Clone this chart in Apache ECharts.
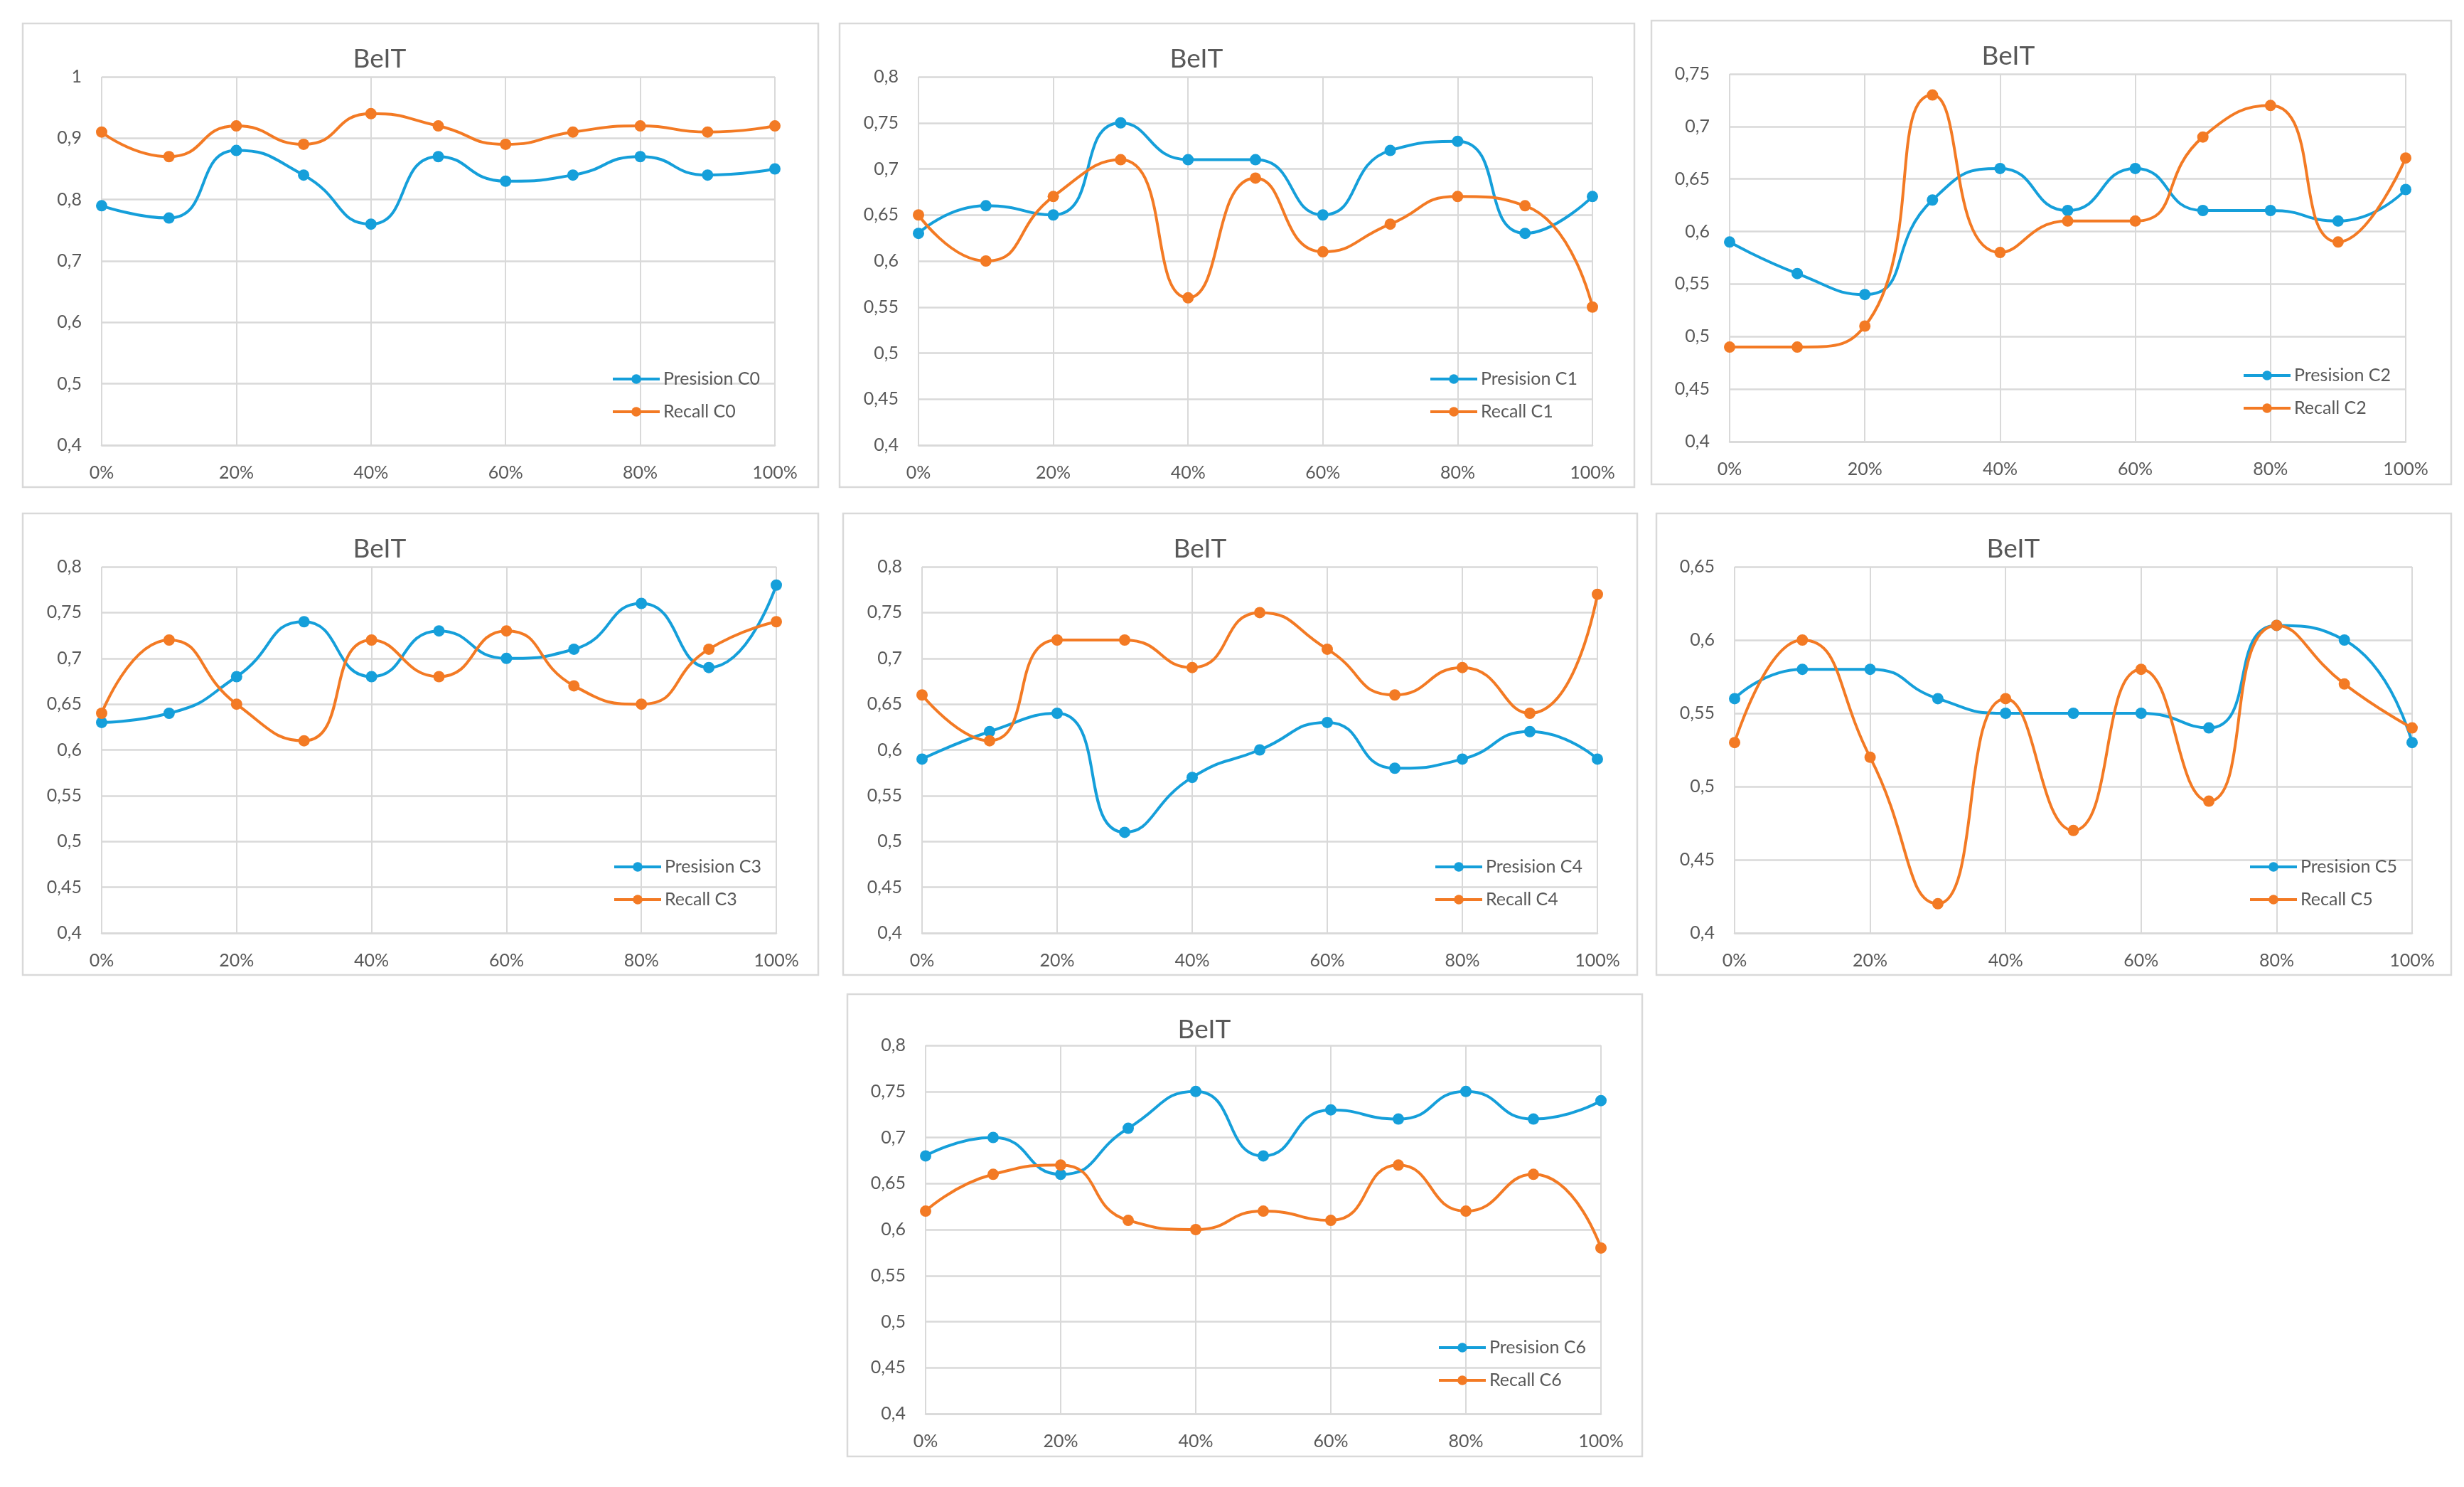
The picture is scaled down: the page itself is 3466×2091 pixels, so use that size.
<!DOCTYPE html>
<html>
<head>
<meta charset="utf-8">
<script src="https://cdn.jsdelivr.net/npm/echarts@6/dist/echarts.min.js"></script>
<style>
html,body{margin:0;padding:0;background:#fff;}
#chart{width:3466px;height:2091px;}
</style>
</head>
<body>
<div id="chart"></div>
<script>
// ---------- data ----------
const xValues = [0, 10, 20, 30, 40, 50, 60, 70, 80, 90, 100];
const chartTitle = 'BeIT';
const classLabels = ['C0', 'C1', 'C2', 'C3', 'C4', 'C5', 'C6'];

const precisionC0 = [0.79, 0.77, 0.88, 0.84, 0.76, 0.87, 0.83, 0.84, 0.87, 0.84, 0.85];
const recallC0    = [0.91, 0.87, 0.92, 0.89, 0.94, 0.92, 0.89, 0.91, 0.92, 0.91, 0.92];

const precisionC1 = [0.63, 0.66, 0.65, 0.75, 0.71, 0.71, 0.65, 0.72, 0.73, 0.63, 0.67];
const recallC1    = [0.65, 0.60, 0.67, 0.71, 0.56, 0.69, 0.61, 0.64, 0.67, 0.66, 0.55];

const precisionC2 = [0.59, 0.56, 0.54, 0.63, 0.66, 0.62, 0.66, 0.62, 0.62, 0.61, 0.64];
const recallC2    = [0.49, 0.49, 0.51, 0.73, 0.58, 0.61, 0.61, 0.69, 0.72, 0.59, 0.67];

const precisionC3 = [0.63, 0.64, 0.68, 0.74, 0.68, 0.73, 0.70, 0.71, 0.76, 0.69, 0.78];
const recallC3    = [0.64, 0.72, 0.65, 0.61, 0.72, 0.68, 0.73, 0.67, 0.65, 0.71, 0.74];

const precisionC4 = [0.59, 0.62, 0.64, 0.51, 0.57, 0.60, 0.63, 0.58, 0.59, 0.62, 0.59];
const recallC4    = [0.66, 0.61, 0.72, 0.72, 0.69, 0.75, 0.71, 0.66, 0.69, 0.64, 0.77];

const precisionC5 = [0.56, 0.58, 0.58, 0.56, 0.55, 0.55, 0.55, 0.54, 0.61, 0.60, 0.53];
const recallC5    = [0.53, 0.60, 0.52, 0.42, 0.56, 0.47, 0.58, 0.49, 0.61, 0.57, 0.54];

const precisionC6 = [0.68, 0.70, 0.66, 0.71, 0.75, 0.68, 0.73, 0.72, 0.75, 0.72, 0.74];
const recallC6    = [0.62, 0.66, 0.67, 0.61, 0.60, 0.62, 0.61, 0.67, 0.62, 0.66, 0.58];

const yMin = 0.4;
const yMaxes = [1, 0.8, 0.75, 0.8, 0.8, 0.65, 0.8];
const yIntervals = [0.1, 0.05, 0.05, 0.05, 0.05, 0.05, 0.05];
const xMin = 0, xMax = 100, xInterval = 20;

const precisionSets = [precisionC0, precisionC1, precisionC2, precisionC3, precisionC4, precisionC5, precisionC6];
const recallSets = [recallC0, recallC1, recallC2, recallC3, recallC4, recallC5, recallC6];

// ---------- layout (pixels) ----------
const layout = [
  {b:[32,33,1151,685],    g:[143,108,1090,626]},
  {b:[1181,33,2299,685],  g:[1292,108,2240,626]},
  {b:[2323,29,3448,681],  g:[2433,104,3384,621]},
  {b:[32,722,1151,1371],  g:[143,797,1092,1312]},
  {b:[1186,722,2303,1371],g:[1297,797,2247,1312]},
  {b:[2330,722,3448,1371],g:[2440,797,3393,1312]},
  {b:[1192,1398,2310,2048],g:[1302,1470,2252,1988]}
];

const BLUE = '#159fda';
const ORANGE = '#f37a24';
const TXT = '#595959';
const GRID = '#d9d9d9';
const FONT = 'Lato, "Open Sans", sans-serif';

const grids = [], xAxes = [], yAxes = [], series = [], legends = [], graphics = [];

layout.forEach((p, i) => {
  const [bx1, by1, bx2, by2] = p.b;
  const [gx1, gy1, gx2, gy2] = p.g;
  graphics.push({
    type: 'rect', z: -10,
    shape: {x: bx1, y: by1, width: bx2 - bx1, height: by2 - by1},
    style: {fill: '#fff', stroke: GRID, lineWidth: 2.5}
  });
  graphics.push({
    type: 'text', z: 10,
    style: {text: chartTitle, x: bx1 + 502, y: by1 + 50, align: 'center', verticalAlign: 'middle',
            font: '37px ' + FONT, fill: TXT}
  });
  grids.push({left: gx1, top: gy1, width: gx2 - gx1, height: gy2 - gy1, containLabel: false});
  xAxes.push({
    type: 'value', gridIndex: i, min: xMin, max: xMax, interval: xInterval,
    axisLine: {show: true, lineStyle: {color: GRID, width: 2.5}},
    axisTick: {show: false},
    splitLine: {show: true, lineStyle: {color: GRID, width: 2}},
    axisLabel: {formatter: v => v + '%', color: TXT, fontSize: 25, fontFamily: FONT, margin: 26}
  });
  yAxes.push({
    type: 'value', gridIndex: i, min: yMin, max: yMaxes[i], interval: yIntervals[i],
    axisLine: {show: false}, axisTick: {show: false},
    splitLine: {show: true, lineStyle: {color: GRID, width: 2.5}},
    axisLabel: {formatter: v => String(+v.toFixed(2)).replace('.', ','), color: TXT,
                fontSize: 25, fontFamily: FONT, margin: 28}
  });
  const pName = 'Presision ' + classLabels[i];
  const rName = 'Recall ' + classLabels[i];
  [[pName, precisionSets[i], BLUE], [rName, recallSets[i], ORANGE]].forEach(([name, vals, col]) => {
    series.push({
      name, type: 'line', xAxisIndex: i, yAxisIndex: i,
      data: xValues.map((x, k) => [x, vals[k]]),
      smooth: 0.55, symbol: 'circle', symbolSize: 16,
      lineStyle: {color: col, width: 4}, itemStyle: {color: col},
      emphasis: {disabled: true}, animation: false
    });
  });
  legends.push({
    data: [pName, rName], orient: 'vertical',
    left: gx2 - 230, top: gy2 - 108, padding: 0,
    itemWidth: 66, itemHeight: 17, itemGap: 16,
    lineStyle: {width: 4},
    textStyle: {color: TXT, fontSize: 25, fontFamily: FONT, lineHeight: 30},
    selectedMode: false
  });
});

const chart = echarts.init(document.getElementById('chart'), null, {renderer: 'canvas'});
chart.setOption({
  backgroundColor: '#fff',
  animation: false,
  graphic: graphics,
  grid: grids,
  xAxis: xAxes,
  yAxis: yAxes,
  legend: legends,
  series: series
});
</script>
</body>
</html>
